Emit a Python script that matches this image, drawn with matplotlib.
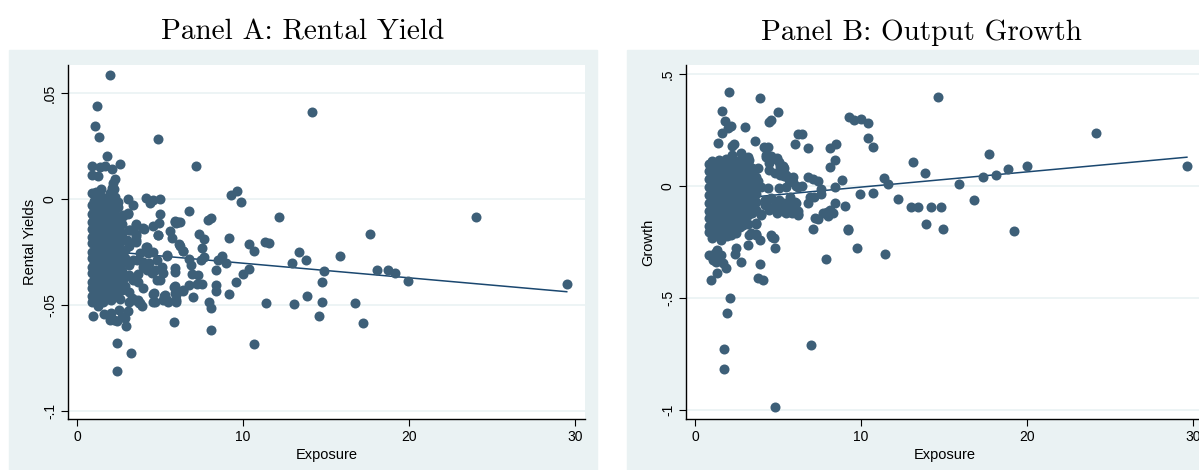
import numpy as np
import matplotlib.pyplot as plt
from matplotlib.patches import Rectangle

W, H = 1199, 470

# exposure vs rental yield, scattered observations (exposure, yield)
rental_pts = [
    (2.01, 0.0585), (1.20, 0.0437), (1.09, 0.0343), (1.30, 0.0291), (4.90, 0.0283), (14.15, 0.0410),
    (1.80, 0.0201), (0.90, 0.0155), (2.59, 0.0165), (7.17, 0.0155), (2.09, 0.0142), (1.39, 0.0150),
    (1.69, 0.0156), (0.88, 0.0112), (1.27, 0.0110), (2.32, 0.0095), (2.20, 0.0074), (1.43, 0.0047),
    (2.09, 0.0050), (0.88, 0.0027), (1.16, 0.0031), (2.24, 0.0047), (1.99, 0.0027), (1.08, 0.0014),
    (1.49, 0.0011), (2.29, 0.0011), (1.79, -0.0005), (2.49, -0.0013),
    (9.25, 0.0020), (9.66, 0.0037), (9.86, -0.0015), (4.18, 0.0006), (3.10, 0.0000), (4.98, 0.0000),
    (4.40, -0.0019), (3.36, -0.0028), (4.60, -0.0005), (6.77, -0.0057), (4.98, -0.0072), (2.80, -0.0080),
    (3.07, -0.0069), (12.15, -0.0085), (24.02, -0.0085), (7.87, -0.0100), (8.06, -0.0091), (5.92, -0.0105),
    (6.18, -0.0110), (5.99, -0.0115), (4.96, -0.0112), (3.58, -0.0121), (4.05, -0.0140), (4.58, -0.0127),
    (3.21, -0.0148), (5.60, -0.0150), (4.90, -0.0168), (7.38, -0.0164), (7.67, -0.0190), (5.71, -0.0184),
    (3.56, -0.0165), (3.57, -0.0195), (17.65, -0.0166), (9.16, -0.0185), (11.33, -0.0203), (11.55, -0.0210),
    (10.37, -0.0212), (10.66, -0.0246), (6.18, -0.0221), (6.39, -0.0246), (7.56, -0.0229), (4.20, -0.0228),
    (13.36, -0.0252), (15.85, -0.0270), (13.77, -0.0290), (12.97, -0.0303), (8.76, -0.0267), (8.50, -0.0287),
    (8.98, -0.0300), (5.41, -0.0268), (6.75, -0.0284), (6.87, -0.0310), (7.65, -0.0272), (7.45, -0.0286),
    (18.05, -0.0336), (18.73, -0.0335), (19.15, -0.0347), (14.87, -0.0340), (19.94, -0.0385), (29.50, -0.0402),
    (10.39, -0.0331), (10.00, -0.0354), (9.58, -0.0393), (8.38, -0.0334), (14.75, -0.0393), (8.35, -0.0404),
    (8.38, -0.0434), (9.16, -0.0450), (13.85, -0.0460), (14.75, -0.0484), (16.75, -0.0490), (13.06, -0.0495),
    (11.36, -0.0492), (7.97, -0.0487), (8.07, -0.0516), (6.98, -0.0462), (6.77, -0.0407), (6.39, -0.0432),
    (7.26, -0.0403), (7.55, -0.0403), (6.95, -0.0355), (7.27, -0.0360), (5.92, -0.0412), (5.99, -0.0454),
    (5.97, -0.0486), (5.46, -0.0488), (5.21, -0.0478), (5.27, -0.0457), (4.70, -0.0488), (4.60, -0.0447),
    (3.91, -0.0503),
    (3.55, -0.0118), (4.00, -0.0138), (3.15, -0.0146), (3.55, -0.0175), (3.55, -0.0201), (3.00, -0.0194),
    (2.59, -0.0201), (2.89, -0.0194), (4.16, -0.0228), (4.56, -0.0249), (3.80, -0.0253), (4.30, -0.0256),
    (5.40, -0.0264), (6.16, -0.0214), (6.37, -0.0245), (3.59, -0.0288), (3.96, -0.0296), (4.36, -0.0304),
    (4.80, -0.0288), (5.10, -0.0323), (5.20, -0.0351), (4.70, -0.0335), (5.90, -0.0327), (5.90, -0.0343),
    (3.69, -0.0354), (4.00, -0.0320), (4.24, -0.0335), (4.50, -0.0351), (4.80, -0.0382), (5.00, -0.0382),
    (3.69, -0.0390), (4.00, -0.0421), (5.86, -0.0414), (6.37, -0.0429), (4.66, -0.0445), (5.30, -0.0453),
    (5.40, -0.0477), (5.90, -0.0445), (5.96, -0.0477), (3.80, -0.0492), (3.69, -0.0477), (3.30, -0.0469),
    (4.56, -0.0485), (2.75, -0.0076), (3.05, -0.0068), (4.86, -0.0170), (5.90, -0.0107), (6.10, -0.0110),
    (5.87, -0.0582), (8.06, -0.0620), (14.56, -0.0550), (17.25, -0.0586), (10.66, -0.0686), (2.40, -0.0680),
    (3.27, -0.0727), (2.40, -0.0811), (2.98, -0.0598), (0.98, -0.0554), (1.65, -0.0545), (2.02, -0.0540),
    (2.24, -0.0572), (2.43, -0.0578), (2.73, -0.0555), (2.89, -0.0560), (3.09, -0.0527), (2.52, -0.0525),
    (1.97, -0.0570), (1.25, -0.0503), (0.93, -0.0487), (1.57, -0.0484), (2.08, -0.0476), (2.59, -0.0471),
    (3.15, -0.0488), (3.47, -0.0476), (3.75, -0.0492), (0.97, -0.0463), (1.16, -0.0455),
]

# the crowded low-exposure block: exposure value and the yields observed at it
rental_core = [
    (0.88, [-0.003, -0.007, -0.011, -0.014, -0.018, -0.021, -0.025, -0.028, -0.032, -0.035, -0.039, -0.042, -0.046]),
    (1.05, [-0.001, -0.005, -0.009, -0.016, -0.020, -0.027, -0.030, -0.034, -0.038, -0.044, -0.047]),
    (1.22, [-0.004, -0.008, -0.012, -0.015, -0.019, -0.023, -0.026, -0.030, -0.033, -0.037, -0.040, -0.045]),
    (1.40, [-0.002, -0.006, -0.010, -0.013, -0.017, -0.022, -0.025, -0.029, -0.031, -0.036, -0.041, -0.043, -0.047]),
    (1.58, [-0.004, -0.008, -0.012, -0.016, -0.019, -0.024, -0.027, -0.032, -0.035, -0.038, -0.042, -0.046]),
    (1.75, [-0.001, -0.006, -0.010, -0.014, -0.018, -0.021, -0.026, -0.029, -0.033, -0.037, -0.040, -0.044]),
    (1.92, [-0.003, -0.008, -0.012, -0.015, -0.020, -0.023, -0.027, -0.031, -0.034, -0.039, -0.043, -0.047]),
    (2.10, [-0.005, -0.009, -0.013, -0.017, -0.022, -0.025, -0.029, -0.032, -0.036, -0.041, -0.045]),
    (2.28, [-0.002, -0.007, -0.011, -0.016, -0.019, -0.024, -0.028, -0.033, -0.038, -0.042, -0.046]),
    (2.48, [-0.004, -0.009, -0.014, -0.018, -0.022, -0.027, -0.031, -0.035, -0.040, -0.044]),
    (2.70, [-0.012, -0.016, -0.025, -0.030, -0.034, -0.038, -0.043]),
    (2.92, [-0.024, -0.028, -0.037, -0.041]),
    (3.15, [-0.022, -0.031, -0.036, -0.044]),
    (3.40, [-0.029, -0.038]),
]

# exposure vs output growth, scattered observations (exposure, growth)
growth_pts = [
    (2.02, 0.421), (3.92, 0.392), (14.62, 0.399), (1.60, 0.333), (5.00, 0.329), (4.58, 0.296),
    (4.46, 0.285), (1.79, 0.292), (2.20, 0.268), (2.00, 0.259), (3.02, 0.262), (1.60, 0.238),
    (9.30, 0.308), (9.60, 0.296), (10.02, 0.301), (10.43, 0.279), (10.43, 0.216), (10.72, 0.172),
    (24.13, 0.238), (6.20, 0.231), (6.43, 0.234), (3.63, 0.199), (1.41, 0.190), (2.21, 0.180),
    (2.37, 0.186), (4.17, 0.172), (4.41, 0.172), (6.03, 0.186), (6.80, 0.170), (8.12, 0.168),
    (8.50, 0.186), (8.42, 0.116), (8.12, 0.083), (17.73, 0.145), (13.12, 0.109), (20.02, 0.087),
    (29.63, 0.089), (18.83, 0.074), (13.83, 0.056), (17.33, 0.042), (18.13, 0.048), (11.41, 0.034),
    (11.62, 0.009), (8.83, 0.025), (15.93, 0.007), (6.81, 0.040), (7.10, 0.030), (7.40, 0.024),
    (6.42, -0.002), (8.42, -0.005), (7.60, -0.013), (7.62, -0.034), (9.93, -0.035), (10.72, -0.032),
    (7.14, -0.051), (6.95, -0.050), (6.82, -0.078), (12.22, -0.060), (16.82, -0.062), (13.03, -0.094),
    (13.43, -0.094), (14.21, -0.095), (14.83, -0.092), (9.02, -0.088), (8.42, -0.077), (7.21, -0.141),
    (7.43, -0.147), (7.71, -0.121), (7.98, -0.117), (8.16, -0.106), (8.30, -0.122), (8.04, -0.136),
    (13.92, -0.169), (14.92, -0.192), (19.22, -0.203), (7.10, -0.191), (9.22, -0.191), (9.23, -0.198),
    (9.74, -0.275), (11.42, -0.303), (7.92, -0.328), (7.00, -0.709), (4.82, -0.987),
    (3.70, -0.168), (4.00, -0.125), (4.97, -0.120), (4.97, -0.109), (5.25, -0.079), (5.62, -0.083),
    (5.80, -0.106), (5.45, -0.117), (6.01, -0.073), (6.19, -0.128), (2.89, -0.174), (2.26, -0.189),
    (2.15, -0.217), (1.92, -0.225), (1.57, -0.239),
    (2.26, 0.138), (2.77, 0.149), (3.17, 0.131), (3.27, 0.116), (3.78, 0.079), (4.28, 0.131),
    (4.48, 0.101), (4.93, 0.124), (5.29, 0.089), (5.50, 0.049), (5.90, 0.042), (6.20, -0.003),
    (3.98, -0.003), (4.38, -0.010), (5.09, -0.010), (5.50, -0.003), (5.70, -0.048), (6.10, -0.077),
    (4.89, -0.077), (4.48, -0.092), (3.98, -0.129), (5.09, -0.107), (5.50, -0.122), (6.20, -0.125),
    (3.68, -0.167), (3.37, -0.211), (3.68, -0.219), (4.59, -0.219),
    (4.28, 0.140), (4.58, 0.132), (4.88, 0.120), (5.04, 0.107), (5.15, 0.091), (5.34, 0.080),
    (4.46, 0.073), (4.81, 0.058), (5.15, 0.051), (5.38, 0.043), (5.66, 0.028), (5.89, 0.016),
    (6.08, -0.001), (2.84, 0.125), (3.19, 0.103), (3.42, 0.080), (3.07, 0.058), (3.54, 0.043),
    (3.77, 0.021), (3.30, 0.006), (2.96, 0.028), (2.73, 0.088),
    (4.23, -0.061), (4.58, -0.054), (5.04, -0.061), (5.38, -0.076), (5.73, -0.091), (5.96, -0.083),
    (5.50, -0.098), (5.85, -0.120), (6.19, -0.113), (4.46, -0.106), (4.23, -0.083),
    (0.85, -0.308), (1.20, -0.300), (1.35, -0.286), (1.56, -0.308), (1.25, -0.338), (1.66, -0.345),
    (1.86, -0.367), (1.35, -0.390), (0.95, -0.420), (2.46, -0.278), (2.40, -0.305), (2.77, -0.338),
    (3.17, -0.263), (3.27, -0.219), (3.68, -0.214), (3.94, -0.241), (4.65, -0.226), (4.75, -0.232),
    (4.85, -0.278), (3.94, -0.350), (3.78, -0.409), (4.12, -0.420), (2.12, -0.501), (1.92, -0.565),
    (1.72, -0.729), (1.72, -0.818), (1.10, -0.330),
]

growth_core = [
    (0.85, [0.100, 0.065, 0.030, -0.005, -0.040, -0.075, -0.110, -0.145, -0.180, -0.205]),
    (1.05, [0.110, 0.080, 0.045, 0.010, -0.025, -0.060, -0.095, -0.130, -0.165, -0.200, -0.230]),
    (1.25, [0.095, 0.060, 0.025, -0.010, -0.045, -0.080, -0.115, -0.150, -0.185, -0.215]),
    (1.45, [0.115, 0.085, 0.050, 0.015, -0.020, -0.055, -0.090, -0.125, -0.160, -0.195, -0.225]),
    (1.65, [0.100, 0.070, 0.035, 0.000, -0.035, -0.070, -0.105, -0.140, -0.175, -0.210]),
    (1.85, [0.120, 0.085, 0.050, 0.015, -0.020, -0.055, -0.090, -0.125, -0.160, -0.195, -0.220]),
    (2.05, [0.105, 0.070, 0.035, 0.000, -0.035, -0.070, -0.105, -0.140, -0.175, -0.205]),
    (2.25, [0.090, 0.055, 0.020, -0.015, -0.050, -0.085, -0.120, -0.155, -0.190]),
    (2.45, [0.110, 0.075, 0.040, 0.005, -0.030, -0.065, -0.100, -0.135, -0.170, -0.210]),
    (2.70, [0.060, 0.025, -0.010, -0.045, -0.080, -0.115, -0.150, -0.185]),
    (2.95, [0.080, 0.040, 0.000, -0.040, -0.075, -0.110, -0.140]),
    (3.20, [0.050, 0.015, -0.025, -0.060, -0.095, -0.130, -0.170]),
    (3.45, [0.030, -0.010, -0.050, -0.085, -0.120]),
    (3.70, [0.040, 0.000, -0.035, -0.070, -0.105]),
]

# linear fits drawn through each panel (intercept, slope)
rental_fit = (-0.0234, -0.00069)
growth_fit = (-0.073, 0.0068)

dot_color = "#3d5f78"
line_color = "#1a476f"
panel_bg = "#eaf2f3"
sans = ["Liberation Sans", "DejaVu Sans"]


def unpack(pts, core):
    xs = [p[0] for p in pts]
    ys = [p[1] for p in pts]
    for cx, cys in core:
        xs += [cx] * len(cys)
        ys += cys
    return np.array(xs), np.array(ys)


def draw_panel(ax, x, y, fit, ylabel, yticks, yticklabels, ylim):
    xx = np.array([x.min(), x.max()])
    ax.plot(xx, fit[0] + fit[1] * xx, color=line_color, lw=1.1, zorder=2)
    ax.scatter(x, y, s=52, color=dot_color, linewidths=0, zorder=3)

    ax.set_xlim(-0.54, 30.6)
    ax.set_ylim(*ylim)
    ax.set_xticks([0, 10, 20, 30])
    ax.set_xticklabels(["0", "10", "20", "30"], family=sans, fontsize=10)
    ax.set_yticks(yticks)
    ax.set_yticklabels(yticklabels, family=sans, fontsize=10, rotation=90, va="center")
    ax.tick_params(direction="out", length=5, width=0.8, colors="black", pad=3)
    ax.grid(axis="y", color=panel_bg, lw=1.2, zorder=0)
    ax.set_axisbelow(True)
    for side in ["top", "right"]:
        ax.spines[side].set_visible(False)
    for side in ["left", "bottom"]:
        ax.spines[side].set_linewidth(1.0)
    ax.set_xlabel("Exposure", family=sans, fontsize=10.5, labelpad=3)
    ax.set_ylabel(ylabel, family=sans, fontsize=10.5, labelpad=4)


fig = plt.figure(figsize=(W / 100, H / 100), dpi=100)
fig.add_artist(Rectangle((9 / W, 0), 588 / W, 420 / H, transform=fig.transFigure,
                         color=panel_bg, zorder=0))
fig.add_artist(Rectangle((627 / W, 0), 600 / W, 420 / H, transform=fig.transFigure,
                         color=panel_bg, zorder=0))

ax1 = fig.add_axes([68 / W, 51 / H, 517 / W, 354 / H])
ax2 = fig.add_axes([686 / W, 51 / H, 517 / W, 354 / H])

rx, ry = unpack(rental_pts, rental_core)
gx, gy = unpack(growth_pts, growth_core)

draw_panel(ax1, rx, ry, rental_fit, "Rental Yields",
           [-0.1, -0.05, 0, 0.05], ["-.1", "-.05", "0", ".05"], (-0.1038, 0.0632))
draw_panel(ax2, gx, gy, growth_fit, "Growth",
           [-1, -0.5, 0, 0.5], ["-1", "-.5", "0", ".5"], (-1.040, 0.540))

fig.text(303 / W, 1 - 39.5 / H, "Panel A: Rental Yield", ha="center", va="baseline",
         family="cmr10", fontsize=21)
fig.text(921 / W, 1 - 39.5 / H, "Panel B: Output Growth", ha="center", va="baseline",
         family="cmr10", fontsize=21)

fig.savefig("out.png", dpi=100)
